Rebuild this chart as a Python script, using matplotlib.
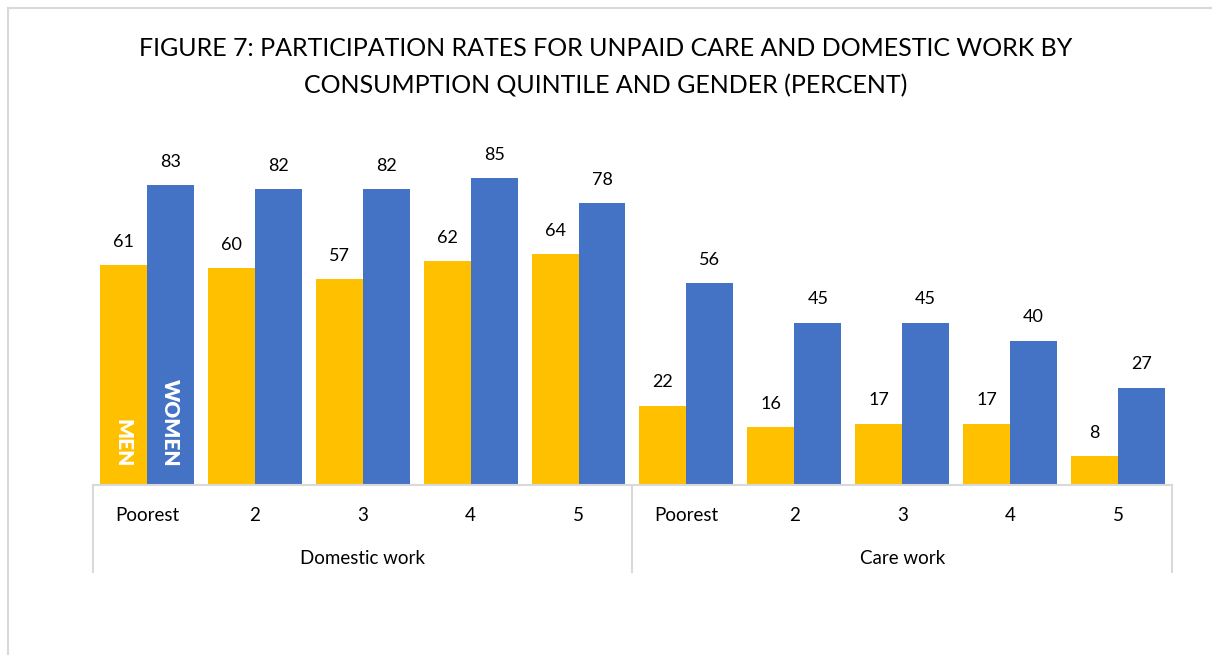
import matplotlib.pyplot as plt
from matplotlib.lines import Line2D

plt.rcParams['font.family'] = ['Lato', 'DejaVu Sans']

quintiles = ['Poorest', '2', '3', '4', '5', 'Poorest', '2', '3', '4', '5']
groups = ['Domestic work', 'Care work']
men = [61, 60, 57, 62, 64, 22, 16, 17, 17, 8]
women = [83, 82, 82, 85, 78, 56, 45, 45, 40, 27]

yellow = '#FFC000'
blue = '#4472C4'
grid_gray = '#D9D9D9'

fig = plt.figure(figsize=(12.12, 6.55), dpi=100)
ax = fig.add_axes([0.0767, 0.2595, 0.8903, 0.5512])

x = list(range(len(quintiles)))
w = 0.435
b1 = ax.bar([i - w / 2 for i in x], men, width=w, color=yellow)
b2 = ax.bar([i + w / 2 for i in x], women, width=w, color=blue)

for bars, vals in ((b1, men), (b2, women)):
    for r, v in zip(bars, vals):
        ax.annotate(str(v), (r.get_x() + r.get_width() / 2, v),
                    xytext=(0, 11), textcoords='offset points',
                    ha='center', va='bottom', fontsize=13, color='#000000')

# series names written inside the first pair of bars
ax.text(0 - w / 2, 5, 'MEN', rotation=270, ha='center', va='bottom',
        color='white', fontsize=15, fontweight='heavy')
ax.text(0 + w / 2, 5, 'WOMEN', rotation=270, ha='center', va='bottom',
        color='white', fontsize=15, fontweight='heavy')

ax.set_xlim(-0.5, len(quintiles) - 0.5)
ax.set_ylim(0, 100)
ax.set_xticks([])
ax.set_yticks([])
for s in ['top', 'right', 'left']:
    ax.spines[s].set_visible(False)
ax.spines['bottom'].set_color(grid_gray)
ax.spines['bottom'].set_linewidth(1.5)

# two-level category axis
tr = ax.get_xaxis_transform()
for i, q in enumerate(quintiles):
    ax.text(i, -0.085, q, transform=tr, ha='center', va='center', fontsize=13.5)
n = len(quintiles) // len(groups)
for g, name in enumerate(groups):
    ax.text(g * n + (n - 1) / 2, -0.203, name, transform=tr,
            ha='center', va='center', fontsize=13.5)
for xs in [-0.5, n - 0.5, len(quintiles) - 0.5]:
    ax.plot([xs, xs], [0, -0.241], transform=tr, color=grid_gray,
            lw=1.5, clip_on=False)

fig.text(0.5, 0.926, 'FIGURE 7: PARTICIPATION RATES FOR UNPAID CARE AND DOMESTIC WORK BY',
         ha='center', va='center', fontsize=18)
fig.text(0.5, 0.869, 'CONSUMPTION QUINTILE AND GENDER (PERCENT)',
         ha='center', va='center', fontsize=18)

# chart area border (top and left visible in the crop)
fig.add_artist(Line2D([8 / 1212, 1.0], [1 - 8 / 655, 1 - 8 / 655], color=grid_gray, lw=1.5))
fig.add_artist(Line2D([8 / 1212, 8 / 1212], [0, 1 - 8 / 655], color=grid_gray, lw=1.5))

fig.savefig('out.png', dpi=100)
